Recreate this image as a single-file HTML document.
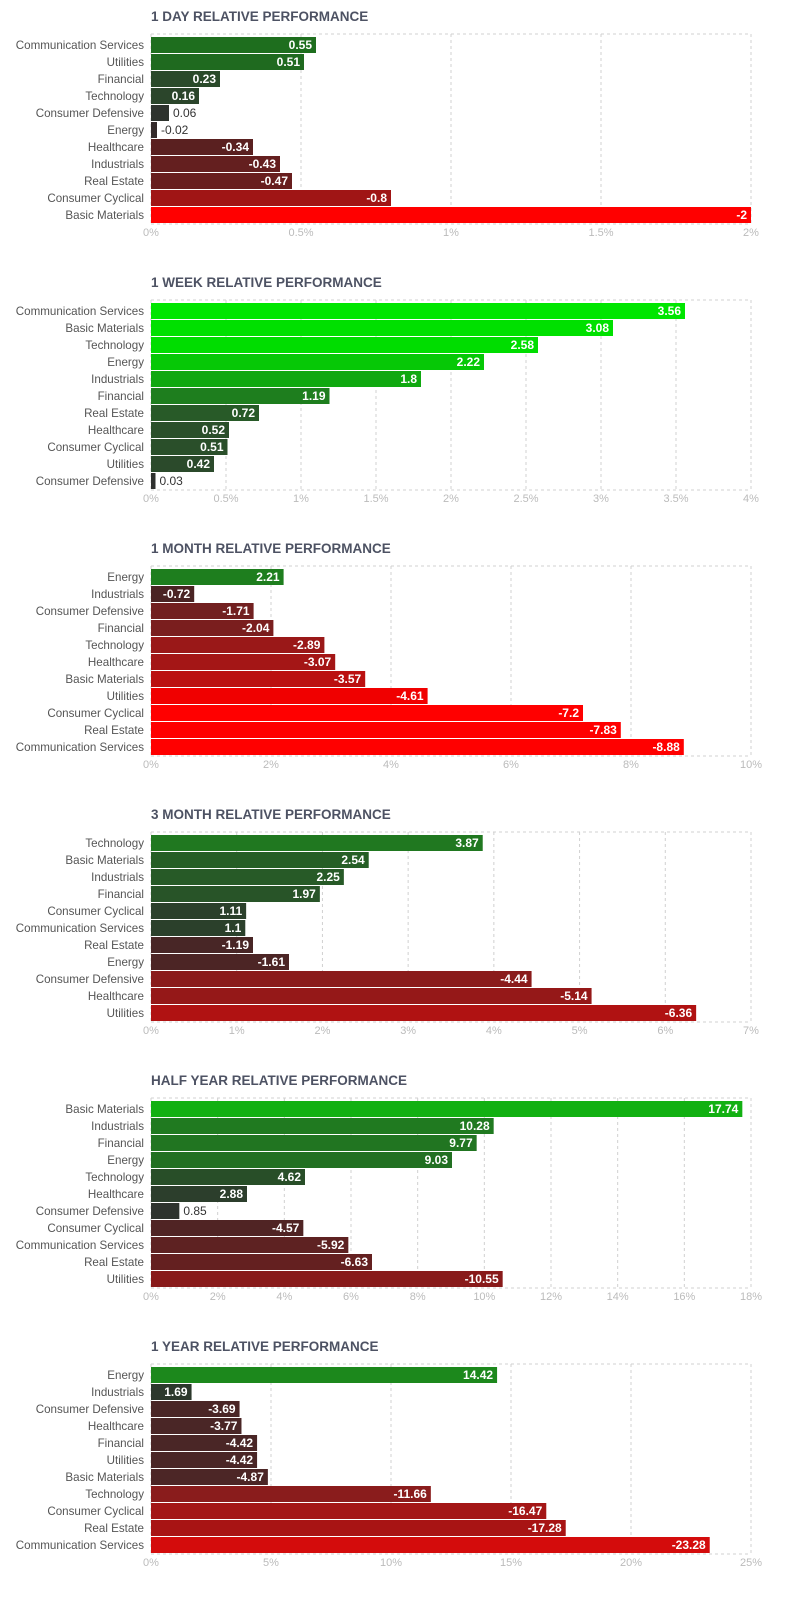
<!DOCTYPE html>
<html><head><meta charset="utf-8">
<style>
html,body{margin:0;padding:0;background:#fff;}
svg{display:block;font-family:"Liberation Sans",sans-serif;}
</style></head>
<body>
<svg id="chart" width="794" height="1597" viewBox="0 0 794 1597" xmlns="http://www.w3.org/2000/svg"></svg>
<script>
// ---- data ----
const titles = ["1 DAY RELATIVE PERFORMANCE","1 WEEK RELATIVE PERFORMANCE","1 MONTH RELATIVE PERFORMANCE","3 MONTH RELATIVE PERFORMANCE","HALF YEAR RELATIVE PERFORMANCE","1 YEAR RELATIVE PERFORMANCE"];
const dayCats = ["Communication Services","Utilities","Financial","Technology","Consumer Defensive","Energy","Healthcare","Industrials","Real Estate","Consumer Cyclical","Basic Materials"];
const dayVals = [0.55,0.51,0.23,0.16,0.06,-0.02,-0.34,-0.43,-0.47,-0.8,-2];
const weekCats = ["Communication Services","Basic Materials","Technology","Energy","Industrials","Financial","Real Estate","Healthcare","Consumer Cyclical","Utilities","Consumer Defensive"];
const weekVals = [3.56,3.08,2.58,2.22,1.8,1.19,0.72,0.52,0.51,0.42,0.03];
const monthCats = ["Energy","Industrials","Consumer Defensive","Financial","Technology","Healthcare","Basic Materials","Utilities","Consumer Cyclical","Real Estate","Communication Services"];
const monthVals = [2.21,-0.72,-1.71,-2.04,-2.89,-3.07,-3.57,-4.61,-7.2,-7.83,-8.88];
const q3Cats = ["Technology","Basic Materials","Industrials","Financial","Consumer Cyclical","Communication Services","Real Estate","Energy","Consumer Defensive","Healthcare","Utilities"];
const q3Vals = [3.87,2.54,2.25,1.97,1.11,1.1,-1.19,-1.61,-4.44,-5.14,-6.36];
const halfCats = ["Basic Materials","Industrials","Financial","Energy","Technology","Healthcare","Consumer Defensive","Consumer Cyclical","Communication Services","Real Estate","Utilities"];
const halfVals = [17.74,10.28,9.77,9.03,4.62,2.88,0.85,-4.57,-5.92,-6.63,-10.55];
const yearCats = ["Energy","Industrials","Consumer Defensive","Healthcare","Financial","Utilities","Basic Materials","Technology","Consumer Cyclical","Real Estate","Communication Services"];
const yearVals = [14.42,1.69,-3.69,-3.77,-4.42,-4.42,-4.87,-11.66,-16.47,-17.28,-23.28];
const axisMax = [2,4,10,7,18,25];
const tickStep = [0.5,0.5,2,1,2,5];
// ---- styles (bar colours) ----
const colors = [
 ["#1e6e1e","#1f6a1f","#2a4a2a","#2b452b","#2e332e","#332a2a","#5a2020","#641f1f","#681e1e","#a01515","#ff0000"],
 ["#00e600","#00e000","#00dd00","#06c806","#10a810","#1e7e1e","#285a28","#2a4f2a","#2a4f2a","#2b4a2b","#2e302e"],
 ["#1e7e1e","#4a2424","#722020","#7a1e1e","#9a1818","#a41616","#bb1010","#f00000","#ff0000","#ff0000","#ff0000"],
 ["#207820","#255e25","#275a27","#285428","#2b402b","#2b402b","#482626","#4c2525","#8a1b1b","#951818","#b01212"],
 ["#12b012","#207a20","#217521","#227022","#284e28","#2c3e2c","#2e332e","#502424","#5e2222","#642020","#881a1a"],
 ["#1c881c","#2c382c","#4a2626","#4a2626","#4a2626","#4a2626","#4c2626","#8a1c1c","#a41616","#a81414","#d40c0c"]
];
const cats = [dayCats,weekCats,monthCats,q3Cats,halfCats,yearCats];
const vals = [dayVals,weekVals,monthVals,q3Vals,halfVals,yearVals];
const names = ["day","week","month","3-month","half-year","year"];

const NS="http://www.w3.org/2000/svg";
const svg=document.getElementById('chart');
function mk(tag,attrs,parent){const e=document.createElementNS(NS,tag);for(const k in attrs)e.setAttribute(k,attrs[k]);(parent||svg).appendChild(e);return e;}
const X0=151,W=600,ROW=17,BH=16;

for(let c=0;c<6;c++){
  const top=34+c*266;
  const g=mk('g',{});
  
  
  const xs=v=>X0+Math.abs(v)/axisMax[c]*W;
  const t=mk('text',{x:X0,y:top-13,'font-size':'13.5','font-weight':'600',fill:'#4d5263'},g);
  t.textContent=titles[c];
  
  
  const bottom=top+3+11*ROW;
  const nT=Math.round(axisMax[c]/tickStep[c]);
  for(let i=0;i<=nT;i++){
    const v=i*tickStep[c];const x=xs(v);
    const gl=mk('line',{x1:x,x2:x,y1:top,y2:bottom,stroke:'#d0d0d0','stroke-dasharray':'3,3','stroke-width':1},g);
    
    
    const tl=mk('text',{x:x,y:bottom+12,'font-size':'11','text-anchor':'middle',fill:'#bbbbbb'},g);
    tl.textContent=(Math.round(v*10)/10)+'%';
    
    
  }
  const tb=mk('line',{x1:X0,x2:X0+W,y1:top,y2:top,stroke:'#d0d0d0','stroke-dasharray':'3,3'},g);
  
  
  const bb=mk('line',{x1:X0,x2:X0+W,y1:bottom,y2:bottom,stroke:'#d0d0d0','stroke-dasharray':'3,3'},g);
  
  
  for(let i=0;i<cats[c].length;i++){
    const y=top+3+i*ROW;const v=vals[c][i];const x1=xs(v);
    const lab=mk('text',{x:144,y:y+12,'font-size':'11.6','text-anchor':'end',fill:'#555'},g);
    lab.textContent=cats[c][i];
    
    
    const r=mk('rect',{x:X0,y:y,width:Math.max(1,x1-X0),height:BH,fill:colors[c][i]},g);
    
    
    const inside=(x1-X0)>30;
    const vt=mk('text',{x:inside?x1-4:x1+4,y:y+12,'font-size':'12','font-weight':inside?'bold':'normal','text-anchor':inside?'end':'start',fill:inside?'#fff':'#333'},g);
    vt.textContent=String(v);
    
    
  }
}
</script>
</body></html>
